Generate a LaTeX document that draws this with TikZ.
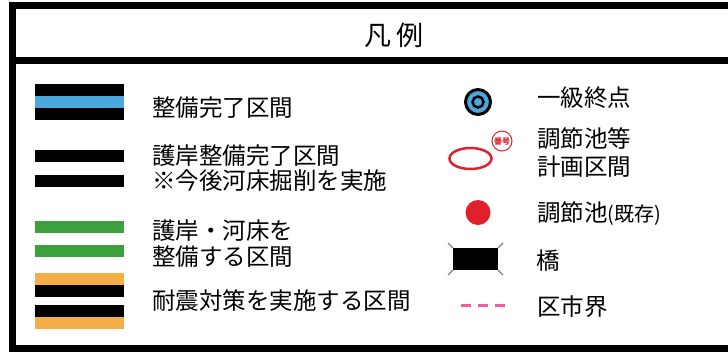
\documentclass[tikz,border=0pt]{standalone}
\usepackage{fontspec}
\setmainfont{Noto Sans CJK JP}
\definecolor{lblue}{HTML}{4BA8DC}
\definecolor{lgreen}{HTML}{3CA03C}
\definecolor{lorange}{HTML}{F5AD48}
\definecolor{lred}{HTML}{E0202A}
\definecolor{lpink}{HTML}{E8609F}
\tikzset{
  lbl/.style={anchor=west,inner sep=0pt,align=left,font=\fontsize{23.5}{26}\selectfont},
  frameline/.style={line width=7pt,black},
  tick/.style={gray,line width=1.3pt},
}
\begin{document}
\begin{tikzpicture}[x=1pt,y=-1pt]
\useasboundingbox (0,0) rectangle (728,351);
\clip (0,0) rectangle (728,351);
\fill[white] (0,0) rectangle (728,351);
% frame
\draw[frameline] (12.5,5.5) rectangle (776,348);
\draw[frameline] (12.5,60.5) -- (776,60.5);
\node[inner sep=0pt,font=\fontsize{27}{30}\selectfont] (title) at (394,35) {凡\hspace{5pt}例};
% left symbols
\fill[black] (35,84) rectangle (124,96);
\fill[lblue] (35,96) rectangle (124,108);
\fill[black] (35,108) rectangle (124,120);
\fill[black] (35,150) rectangle (124,162);
\fill[black] (35,174.5) rectangle (124,187);
\fill[lgreen] (35,221) rectangle (124,232.5);
\fill[lgreen] (35,245) rectangle (124,256.5);
\fill[lorange] (35,273) rectangle (124,285);
\fill[black] (35,285) rectangle (124,297);
\fill[black] (35,304.5) rectangle (124,317);
\fill[lorange] (35,317) rectangle (124,329);
% left labels
\node[lbl] (t1) at (152,107.5) {整備完了区間};
\node[lbl,font=\fontsize{23.5}{25}\selectfont] (t2) at (152,168.5) {護岸整備完了区間\\※今後河床掘削を実施};
\node[lbl] (t3) at (152,244) {護岸・河床を\\整備する区間};
\node[lbl] (t4) at (152,301) {耐震対策を実施する区間};
% right symbols
\fill[lblue] (478,102) circle (12.5);
\draw[line width=3pt] (478,102) circle (12.5);
\draw[line width=2.5pt,fill=lblue] (478,102) circle (5.5);
\draw[lred,line width=2.5pt] (470.5,158.5) ellipse (21 and 10.5);
\node[circle,draw=lred,line width=1pt,inner sep=0pt,minimum size=20pt,text=lred,font=\fontsize{8}{8}\selectfont\bfseries] (badge) at (502,141) {番号};
\fill[lred] (478,212.5) circle (12.5);
\fill[black] (453,248) rectangle (498,270);
\draw[tick] (453,248) -- (448,243);
\draw[tick] (453,270) -- (448,275);
\draw[tick] (498,248) -- (503,243);
\draw[tick] (498,270) -- (503,275);
\draw[lpink,line width=3pt,dash pattern=on 10pt off 7pt] (461,305) -- (505,305);
% right labels
\node[lbl] (r1) at (537,98) {一級終点};
\node[lbl,font=\fontsize{23.5}{28}\selectfont] (r2) at (537,153) {調節池等\\計画区間};
\node[lbl] (r3) at (537,214) {調節池{\fontsize{20}{22}\selectfont (既存)}};
\node[lbl] (r4) at (536,261) {橋};
\node[lbl] (r5) at (537,307) {区市界};
\end{tikzpicture}
\end{document}
